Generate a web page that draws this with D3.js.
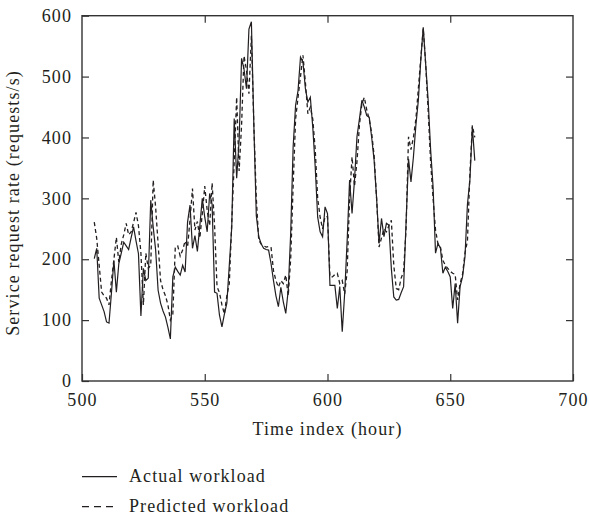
<!DOCTYPE html>
<html>
<head>
<meta charset="utf-8">
<script src="https://cdn.jsdelivr.net/npm/d3@7"></script>
<style>
  body { margin: 0; background: #fff; }
  text { font-family: "Liberation Serif", "Times New Roman", serif; fill: #231f20; }
</style>
</head>
<body>
<div id="graph"></div>
<script>
const width = 589
const height = 518

// hour index for every sample
const startHour = 505
const actual = [
  201, 218, 136, 125, 114, 97, 95, 145, 198, 146,
  193, 210, 228, 222, 216, 235, 253, 230, 209, 107,
  185, 165, 169, 297, 253, 215, 149, 128, 115, 105,
  88, 69, 171, 187, 180, 174, 190, 179, 261, 289,
  218, 239, 213, 255, 300, 269, 245, 308, 290, 146,
  144, 108, 89, 110, 128, 190, 253, 431, 333, 395,
  530, 512, 480, 578, 590, 420, 272, 237, 225, 218,
  216, 215, 193, 165, 140, 122, 154, 130, 111, 149,
  242, 384, 453, 477, 532, 524, 480, 458, 466, 417,
  351, 269, 245, 237, 286, 275, 157, 157, 157, 119,
  155, 81, 144, 230, 330, 275, 330, 401, 430, 461,
  450, 436, 433, 400, 362, 300, 226, 267, 237, 259,
  256, 185, 138, 133, 134, 145, 155, 260, 365, 327,
  368, 420, 461, 527, 581, 520, 461, 380, 319, 210,
  226, 218, 177, 187, 180, 171, 119, 160, 95, 155,
  171, 204, 290, 330, 417, 362
]
const predicted = [
  261, 234, 190, 146, 140, 136, 125, 165, 200, 236,
  195, 225, 240, 259, 240, 245, 260, 277, 255, 210,
  125, 210, 185, 190, 330, 285, 225, 165, 150, 140,
  125, 100, 110, 220, 222, 205, 215, 230, 220, 265,
  316, 248, 262, 235, 275, 320, 280, 255, 325, 255,
  155, 145, 125, 110, 140, 160, 260, 360, 466, 345,
  420, 534, 510, 472, 567, 420, 300, 231, 225, 222,
  220, 221, 220, 181, 165, 154, 165, 160, 174, 140,
  200, 320, 430, 466, 500, 535, 490, 439, 450, 430,
  380, 300, 269, 250, 270, 270, 171, 171, 175, 177,
  160, 165, 143, 180, 300, 368, 320, 360, 420, 455,
  466, 445, 430, 407, 370, 300, 220, 235, 250, 245,
  255, 264, 190, 152, 150, 169, 180, 250, 401, 380,
  400, 430, 480, 530, 579, 520, 444, 360, 300, 248,
  225, 220, 198, 190, 185, 180, 177, 175, 133, 160,
  175, 210, 230, 340, 420, 400
]
const hours = actual.map((d, i) => startHour + i)

const xTicks = [500, 550, 600, 650, 700]
const yTicks = [0, 100, 200, 300, 400, 500, 600]

const legendItems = [
  { name: 'Actual workload', dash: null },
  { name: 'Predicted workload', dash: '7,5' }
]

const plot = { left: 82, right: 573, top: 15.7, bottom: 381 }
const fontSize = 18
const spacing = 1.1

const svg = d3.select('#graph').append('svg')
  .attr('width', width)
  .attr('height', height)

const xScale = d3.scaleLinear().domain([500, 700]).range([plot.left, plot.right])
const yScale = d3.scaleLinear().domain([0, 600]).range([plot.bottom, plot.top])

const axisColor = '#333'

const styleText = (sel) => sel
  .attr('font-size', fontSize)
  .attr('letter-spacing', spacing)
  .attr('font-family', '"Liberation Serif", serif')
  .attr('fill', '#231f20')

// bottom axis with labels, ticks pointing inward
const xAxis = svg.append('g')
  .attr('transform', `translate(0,${plot.bottom})`)
  .call(d3.axisBottom(xScale).tickValues(xTicks).tickSizeInner(-7).tickSizeOuter(0).tickPadding(12))
xAxis.select('.domain').remove()
xAxis.selectAll('line').attr('stroke', axisColor).attr('stroke-width', 1.2)
xAxis.selectAll('text').call(styleText)

const yAxis = svg.append('g')
  .attr('transform', `translate(${plot.left},0)`)
  .call(d3.axisLeft(yScale).tickValues(yTicks).tickSizeInner(-7).tickSizeOuter(0).tickPadding(10))
yAxis.select('.domain').remove()
yAxis.selectAll('line').attr('stroke', axisColor).attr('stroke-width', 1.2)
yAxis.selectAll('text').call(styleText)

// top and right ticks, no labels
const xTop = svg.append('g')
  .attr('transform', `translate(0,${plot.top})`)
  .call(d3.axisTop(xScale).tickValues(xTicks.slice(1, -1)).tickSizeInner(-7).tickSizeOuter(0).tickFormat(''))
xTop.select('.domain').remove()
xTop.selectAll('line').attr('stroke', axisColor).attr('stroke-width', 1.2)

const yRight = svg.append('g')
  .attr('transform', `translate(${plot.right},0)`)
  .call(d3.axisRight(yScale).tickValues(yTicks.slice(1, -1)).tickSizeInner(-7).tickSizeOuter(0).tickFormat(''))
yRight.select('.domain').remove()
yRight.selectAll('line').attr('stroke', axisColor).attr('stroke-width', 1.2)

svg.append('rect')
  .attr('x', plot.left)
  .attr('y', plot.top)
  .attr('width', plot.right - plot.left)
  .attr('height', plot.bottom - plot.top)
  .attr('fill', 'none')
  .attr('stroke', axisColor)
  .attr('stroke-width', 1.4)

const line = d3.line()
  .x((d) => xScale(d[0]))
  .y((d) => yScale(d[1]))

svg.append('path')
  .datum(hours.map((h, i) => [h, predicted[i]]))
  .attr('d', line)
  .attr('fill', 'none')
  .attr('stroke', '#231f20')
  .attr('stroke-width', 1.3)
  .attr('stroke-dasharray', '4,3')

svg.append('path')
  .datum(hours.map((h, i) => [h, actual[i]]))
  .attr('d', line)
  .attr('fill', 'none')
  .attr('stroke', '#231f20')
  .attr('stroke-width', 1.2)

// axis titles
svg.append('text')
  .attr('x', (plot.left + plot.right) / 2)
  .attr('y', 435)
  .attr('text-anchor', 'middle')
  .call(styleText)
  .text('Time index (hour)')

svg.append('text')
  .attr('transform', 'translate(19,203) rotate(-90)')
  .attr('text-anchor', 'middle')
  .call(styleText)
  .text('Service request rate (requests/s)')

// legend
const legend = svg.append('g')
legendItems.forEach((item, i) => {
  const y = 476.7 + i * 30
  legend.append('line')
    .attr('x1', 82)
    .attr('x2', 117)
    .attr('y1', y)
    .attr('y2', y)
    .attr('stroke', '#231f20')
    .attr('stroke-width', 1.2)
    .attr('stroke-dasharray', item.dash)
  legend.append('text')
    .attr('x', 129)
    .attr('y', y + 5.5)
    .call(styleText)
    .text(item.name)
})
</script>
</body>
</html>
